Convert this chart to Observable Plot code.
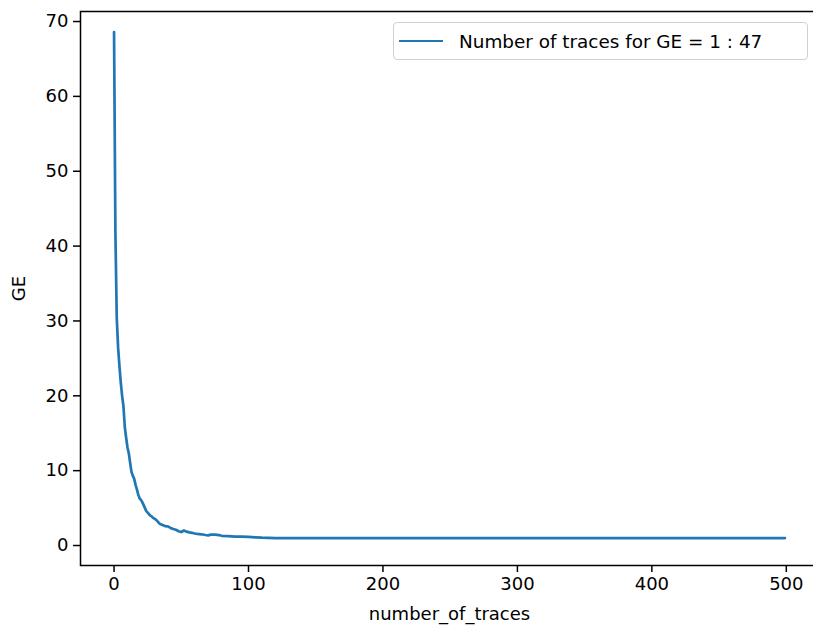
<!DOCTYPE html>
<html>
<head>
<meta charset="utf-8">
<script src="https://cdn.jsdelivr.net/npm/d3@7"></script>
<script src="https://cdn.jsdelivr.net/npm/@observablehq/plot@0.6"></script>
<style>
  html, body { margin: 0; padding: 0; background: #fff; }
  #wrap { position: relative; width: 813px; height: 628px; overflow: hidden; }
  #wrap svg { overflow: hidden; }
  .legend {
    position: absolute; left: 393px; top: 22px;
    width: 415px; height: 38px; box-sizing: border-box;
    border: 1px solid #d0d0d0; border-radius: 4px;
    background: rgba(255,255,255,0.8);
    font-family: "DejaVu Sans", sans-serif; font-size: 18.4px; color: #000;
    display: flex; align-items: center;
  }
  .legend .swatch { display: inline-block; width: 44px; height: 0; border-top: 2.7px solid #1f77b4; margin-left: 5px; margin-right: 16px; }
</style>
</head>
<body>
<div id="wrap"></div>
<script>
// Guessing entropy as a function of the number of attack traces
const traceIndex = [0, 1, 2, 3, 4, 5, 6, 7, 8, 9, 10, 11, 12, 13, 14, 15, 16, 17, 18, 19,
  20, 21, 22, 23, 24, 25, 26, 27, 28, 29, 30, 32, 34, 36, 38, 40, 42, 44, 46, 48,
  50, 52, 54, 56, 58, 60, 62, 65, 68, 70, 72, 75, 78, 80, 85, 90, 95, 100, 105, 110,
  115, 120, 130, 160, 200, 250, 300, 350, 400, 450, 499];
const geValues = [68.6, 42.0, 30.5, 26.5, 24.0, 21.8, 20.0, 18.6, 15.8, 14.4, 13.1, 12.3, 11.0, 9.8, 9.3, 8.9, 8.1, 7.5, 6.8, 6.3,
  6.1, 5.8, 5.4, 5.0, 4.6, 4.4, 4.2, 4.0, 3.9, 3.7, 3.6, 3.3, 2.9, 2.75, 2.6, 2.55, 2.35, 2.2, 2.1, 1.9,
  1.8, 2.0, 1.85, 1.75, 1.7, 1.6, 1.55, 1.5, 1.4, 1.35, 1.45, 1.45, 1.4, 1.3, 1.25, 1.2, 1.2, 1.15, 1.1, 1.05,
  1.02, 1.0, 1.0, 1.0, 1.0, 1.0, 1.0, 1.0, 1.0, 1.0, 1.0];
const xTicks = [0, 100, 200, 300, 400, 500];
const yTicks = [0, 10, 20, 30, 40, 50, 60, 70];
const seriesLabel = "Number of traces for GE = 1 : 47";

const data = traceIndex.map((t, i) => ({trace: t, ge: geValues[i]}));

const chart = Plot.plot({
  width: 813,
  height: 628,
  marginLeft: 80,
  marginRight: -5,
  marginTop: 11,
  marginBottom: 63,
  style: {fontFamily: "DejaVu Sans, sans-serif", fontSize: "18px", color: "#000", background: "#fff"},
  x: {domain: [-24.95, 523.95]},
  y: {domain: [-2.67, 71.34]},
  marks: [
    Plot.axisX({ticks: xTicks, tickSize: 7, tickPadding: 5, tickFormat: d => String(d),
      label: "number_of_traces", labelAnchor: "center", labelArrow: "none", labelOffset: 54, strokeWidth: 1.5}),
    Plot.axisY({ticks: yTicks, tickSize: 7, tickPadding: 5, tickFormat: d => String(d),
      label: "GE", labelAnchor: "center", labelArrow: "none", labelOffset: 68, strokeWidth: 1.5}),
    Plot.line(data, {x: "trace", y: "ge", stroke: "#1f77b4", strokeWidth: 2.7, strokeLinejoin: "round"}),
    Plot.frame({stroke: "#000", strokeWidth: 1.5})
  ]
});

const wrap = document.getElementById("wrap");
wrap.appendChild(chart);
const legend = document.createElement("div");
legend.className = "legend";
legend.innerHTML = '<span class="swatch"></span><span></span>';
legend.lastChild.textContent = seriesLabel;
wrap.appendChild(legend);
</script>
</body>
</html>
